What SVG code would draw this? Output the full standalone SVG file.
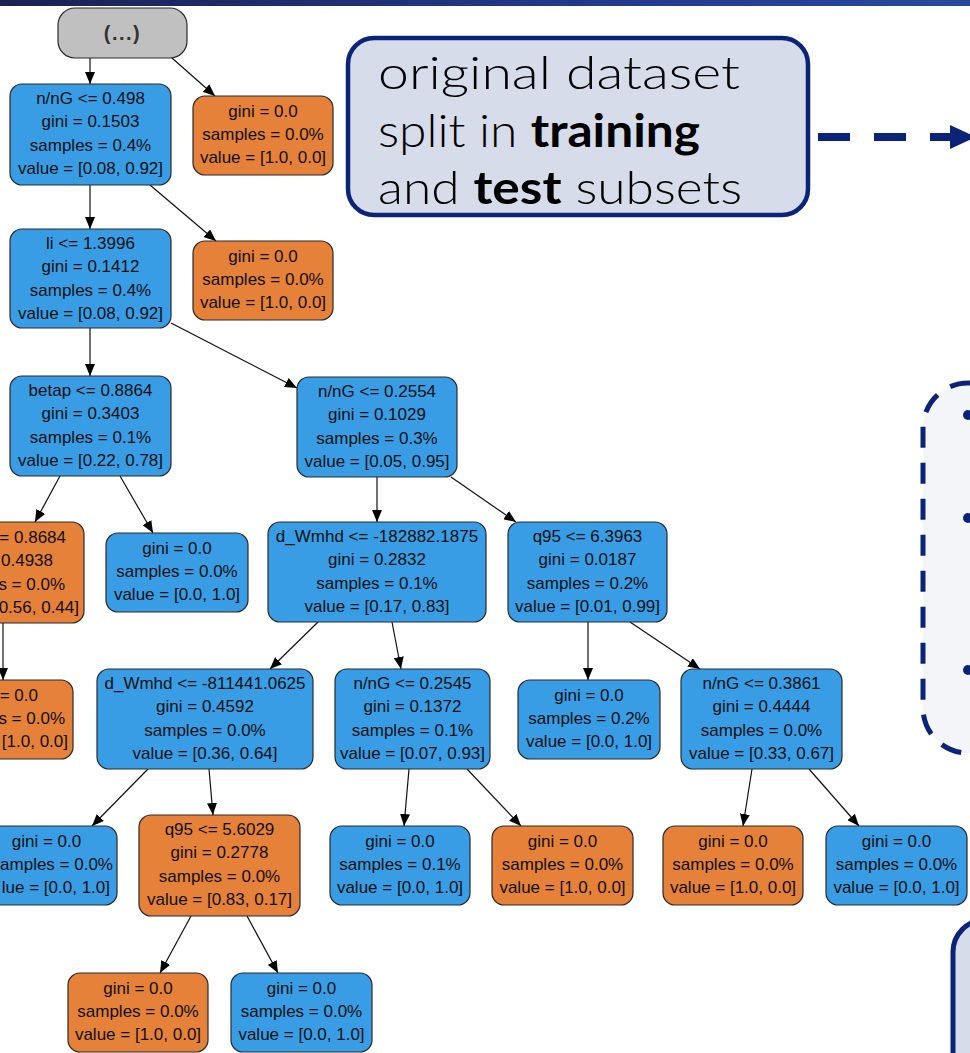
<svg xmlns="http://www.w3.org/2000/svg" width="970" height="1053" viewBox="0 0 970 1053">
<defs>
<linearGradient id="bar" x1="0" y1="0" x2="1" y2="0">
<stop offset="0" stop-color="#1a2252"/>
<stop offset="0.6" stop-color="#22398c"/>
<stop offset="1" stop-color="#2a47a0"/>
</linearGradient>
<marker id="ah" markerUnits="userSpaceOnUse" markerWidth="12" markerHeight="10" viewBox="0 0 12 10" refX="12" refY="5" orient="auto">
<path d="M0,0 L12,5 L0,10 z" fill="#000"/>
</marker>
</defs>
<style>
.b{fill:#399de5;stroke:#2a2a2a;stroke-width:1.2}
.o{fill:#e58139;stroke:#2a2a2a;stroke-width:1.2}
.t{font-family:"Liberation Sans",Arial,sans-serif;font-size:17px;fill:#111;text-anchor:middle}
.te{font-family:"Liberation Sans",Arial,sans-serif;font-size:17px;fill:#111;text-anchor:end}
.e{stroke:#111;stroke-width:1.2;fill:none;marker-end:url(#ah)}
.big{font-family:Lato,"DejaVu Sans",sans-serif;font-weight:300;font-size:46px;fill:#000}
.bd{font-weight:700}
</style>
<rect x="0" y="0" width="970" height="1053" fill="#fff"/>
<rect x="0" y="0" width="970" height="6" fill="url(#bar)"/>

<g id="connectors">
<path class="e" d="M90,58 L90,84"/>
<path class="e" d="M172,58 L215,96"/>
<path class="e" d="M90,185 L90,229"/>
<path class="e" d="M150,185 L216,241"/>
<path class="e" d="M90,328 L90,376"/>
<path class="e" d="M171,323 L297,388"/>
<path class="e" d="M60,476 L35,522"/>
<path class="e" d="M120,476 L153,533"/>
<path class="e" d="M3,623 L3,680"/>
<path class="e" d="M377,477 L377,522"/>
<path class="e" d="M451,477 L516,522"/>
<path class="e" d="M318,622 L270,669"/>
<path class="e" d="M392,622 L401,669"/>
<path class="e" d="M588,622 L588,680"/>
<path class="e" d="M630,622 L700,669"/>
<path class="e" d="M148,769 L92,826"/>
<path class="e" d="M209,769 L213,815"/>
<path class="e" d="M409,769 L404,826"/>
<path class="e" d="M467,769 L521,826"/>
<path class="e" d="M752,769 L743,826"/>
<path class="e" d="M809,769 L859,826"/>
<path class="e" d="M191,916 L160,973"/>
<path class="e" d="M247,916 L278,973"/>
</g>

<g id="root">
<rect x="58" y="8" width="129" height="50" rx="17" fill="#c0c0c0" stroke="#2a2a2a" stroke-width="1.2"/>
<text x="122.5" y="40" font-family="Liberation Sans,Arial,sans-serif" font-size="20" font-weight="bold" fill="#333" text-anchor="middle" letter-spacing="1.5">(...)</text>
</g>

<g id="nA"><rect class="b" x="10" y="84" width="161" height="101" rx="12"/>
<text class="t" x="90.5" y="104">n/nG &lt;= 0.498</text><text class="t" x="90.5" y="127">gini = 0.1503</text><text class="t" x="90.5" y="151">samples = 0.4%</text><text class="t" x="90.5" y="174">value = [0.08, 0.92]</text></g>

<g id="nB"><rect class="o" x="193" y="96" width="140" height="79" rx="12"/>
<text class="t" x="263" y="117">gini = 0.0</text><text class="t" x="263" y="140">samples = 0.0%</text><text class="t" x="263" y="163">value = [1.0, 0.0]</text></g>

<g id="nC"><rect class="b" x="10" y="229" width="161" height="99" rx="12"/>
<text class="t" x="90.5" y="249">li &lt;= 1.3996</text><text class="t" x="90.5" y="272">gini = 0.1412</text><text class="t" x="90.5" y="296">samples = 0.4%</text><text class="t" x="90.5" y="319">value = [0.08, 0.92]</text></g>

<g id="nD"><rect class="o" x="193" y="241" width="140" height="79" rx="12"/>
<text class="t" x="263" y="262">gini = 0.0</text><text class="t" x="263" y="285">samples = 0.0%</text><text class="t" x="263" y="308">value = [1.0, 0.0]</text></g>

<g id="nE"><rect class="b" x="10" y="376" width="161" height="100" rx="12"/>
<text class="t" x="90.5" y="396">betap &lt;= 0.8864</text><text class="t" x="90.5" y="419">gini = 0.3403</text><text class="t" x="90.5" y="443">samples = 0.1%</text><text class="t" x="90.5" y="466">value = [0.22, 0.78]</text></g>

<g id="nF"><rect class="b" x="297" y="377" width="160" height="100" rx="12"/>
<text class="t" x="377" y="397">n/nG &lt;= 0.2554</text><text class="t" x="377" y="420">gini = 0.1029</text><text class="t" x="377" y="444">samples = 0.3%</text><text class="t" x="377" y="467">value = [0.05, 0.95]</text></g>

<g id="nG"><rect class="o" x="-80" y="522" width="164" height="101" rx="12"/>
<text class="te" x="66" y="543">= 0.8684</text><text class="te" x="53" y="566">0.4938</text><text class="te" x="65" y="590">s = 0.0%</text><text class="te" x="79" y="613">0.56, 0.44]</text></g>

<g id="nI"><rect class="b" x="106" y="533" width="142" height="79" rx="12"/>
<text class="t" x="177" y="554">gini = 0.0</text><text class="t" x="177" y="577">samples = 0.0%</text><text class="t" x="177" y="600">value = [0.0, 1.0]</text></g>

<g id="nJ"><rect class="b" x="268" y="522" width="218" height="100" rx="12"/>
<text class="t" x="377" y="542">d_Wmhd &lt;= -182882.1875</text><text class="t" x="377" y="565">gini = 0.2832</text><text class="t" x="377" y="589">samples = 0.1%</text><text class="t" x="377" y="612">value = [0.17, 0.83]</text></g>

<g id="nK"><rect class="b" x="508" y="522" width="159" height="100" rx="12"/>
<text class="t" x="587.5" y="542">q95 &lt;= 6.3963</text><text class="t" x="587.5" y="565">gini = 0.0187</text><text class="t" x="587.5" y="589">samples = 0.2%</text><text class="t" x="587.5" y="612">value = [0.01, 0.99]</text></g>

<g id="nH"><rect class="o" x="-70" y="680" width="143" height="79" rx="12"/>
<text class="te" x="38" y="701">= 0.0</text><text class="te" x="65" y="724">s = 0.0%</text><text class="te" x="68" y="747">[1.0, 0.0]</text></g>

<g id="nL"><rect class="b" x="97" y="669" width="216" height="100" rx="12"/>
<text class="t" x="205" y="689">d_Wmhd &lt;= -811441.0625</text><text class="t" x="205" y="712">gini = 0.4592</text><text class="t" x="205" y="736">samples = 0.0%</text><text class="t" x="205" y="759">value = [0.36, 0.64]</text></g>

<g id="nN"><rect class="b" x="335" y="669" width="155" height="100" rx="12"/>
<text class="t" x="412.5" y="689">n/nG &lt;= 0.2545</text><text class="t" x="412.5" y="712">gini = 0.1372</text><text class="t" x="412.5" y="736">samples = 0.1%</text><text class="t" x="412.5" y="759">value = [0.07, 0.93]</text></g>

<g id="nM"><rect class="b" x="518" y="680" width="142" height="79" rx="12"/>
<text class="t" x="589" y="701">gini = 0.0</text><text class="t" x="589" y="724">samples = 0.2%</text><text class="t" x="589" y="747">value = [0.0, 1.0]</text></g>

<g id="nO"><rect class="b" x="681" y="669" width="161" height="100" rx="12"/>
<text class="t" x="761.5" y="689">n/nG &lt;= 0.3861</text><text class="t" x="761.5" y="712">gini = 0.4444</text><text class="t" x="761.5" y="736">samples = 0.0%</text><text class="t" x="761.5" y="759">value = [0.33, 0.67]</text></g>

<g id="nP"><rect class="b" x="-24" y="826" width="141" height="79" rx="12"/>
<text class="t" x="46.5" y="847">gini = 0.0</text><text class="te" x="113" y="870">amples = 0.0%</text><text class="te" x="110" y="893">lue = [0.0, 1.0]</text></g>

<g id="nQ"><rect class="o" x="139" y="815" width="161" height="101" rx="12"/>
<text class="t" x="219.5" y="835">q95 &lt;= 5.6029</text><text class="t" x="219.5" y="858">gini = 0.2778</text><text class="t" x="219.5" y="882">samples = 0.0%</text><text class="t" x="219.5" y="905">value = [0.83, 0.17]</text></g>

<g id="nR"><rect class="b" x="330" y="826" width="140" height="79" rx="12"/>
<text class="t" x="400" y="847">gini = 0.0</text><text class="t" x="400" y="870">samples = 0.1%</text><text class="t" x="400" y="893">value = [0.0, 1.0]</text></g>

<g id="nS"><rect class="o" x="492" y="826" width="141" height="79" rx="12"/>
<text class="t" x="562.5" y="847">gini = 0.0</text><text class="t" x="562.5" y="870">samples = 0.0%</text><text class="t" x="562.5" y="893">value = [1.0, 0.0]</text></g>

<g id="nT"><rect class="o" x="663" y="826" width="140" height="79" rx="12"/>
<text class="t" x="733" y="847">gini = 0.0</text><text class="t" x="733" y="870">samples = 0.0%</text><text class="t" x="733" y="893">value = [1.0, 0.0]</text></g>

<g id="nU"><rect class="b" x="826" y="826" width="141" height="79" rx="12"/>
<text class="t" x="896.5" y="847">gini = 0.0</text><text class="t" x="896.5" y="870">samples = 0.0%</text><text class="t" x="896.5" y="893">value = [0.0, 1.0]</text></g>

<g id="nV"><rect class="o" x="68" y="973" width="140" height="79" rx="12"/>
<text class="t" x="138" y="994">gini = 0.0</text><text class="t" x="138" y="1017">samples = 0.0%</text><text class="t" x="138" y="1040">value = [1.0, 0.0]</text></g>

<g id="nW"><rect class="b" x="231" y="973" width="141" height="79" rx="12"/>
<text class="t" x="301.5" y="994">gini = 0.0</text><text class="t" x="301.5" y="1017">samples = 0.0%</text><text class="t" x="301.5" y="1040">value = [0.0, 1.0]</text></g>

<g id="callout">
<rect x="348" y="38" width="460" height="177" rx="26" fill="#d6dcea" stroke="#0c2478" stroke-width="4.5"/>
<text class="big" x="378" y="89" textLength="362" lengthAdjust="spacingAndGlyphs">original dataset</text>
<text class="big" x="378" y="147" textLength="322" lengthAdjust="spacingAndGlyphs">split in <tspan class="bd">training</tspan></text>
<text class="big" x="378" y="204" textLength="364" lengthAdjust="spacingAndGlyphs">and <tspan class="bd">test</tspan> subsets</text>
</g>

<g id="dashed-arrow">
<path d="M818,137 L952,137" stroke="#0c2478" stroke-width="8" stroke-dasharray="32 24" fill="none"/>
<polygon points="950,125 976,137 950,149" fill="#0c2478"/>
</g>

<g id="bullet-box">
<rect x="923" y="383" width="200" height="370" rx="45" fill="#f4f5f9" stroke="#0c2478" stroke-width="5" stroke-dasharray="21 15"/>
<circle cx="968" cy="415" r="5" fill="#0c2478"/>
<circle cx="968" cy="518" r="5" fill="#0c2478"/>
<circle cx="968" cy="670" r="5" fill="#0c2478"/>
</g>

<g id="bottom-box">
<rect x="953" y="920" width="100" height="200" rx="32" fill="#d6dcea" stroke="#0c2478" stroke-width="5"/>
</g>
</svg>
